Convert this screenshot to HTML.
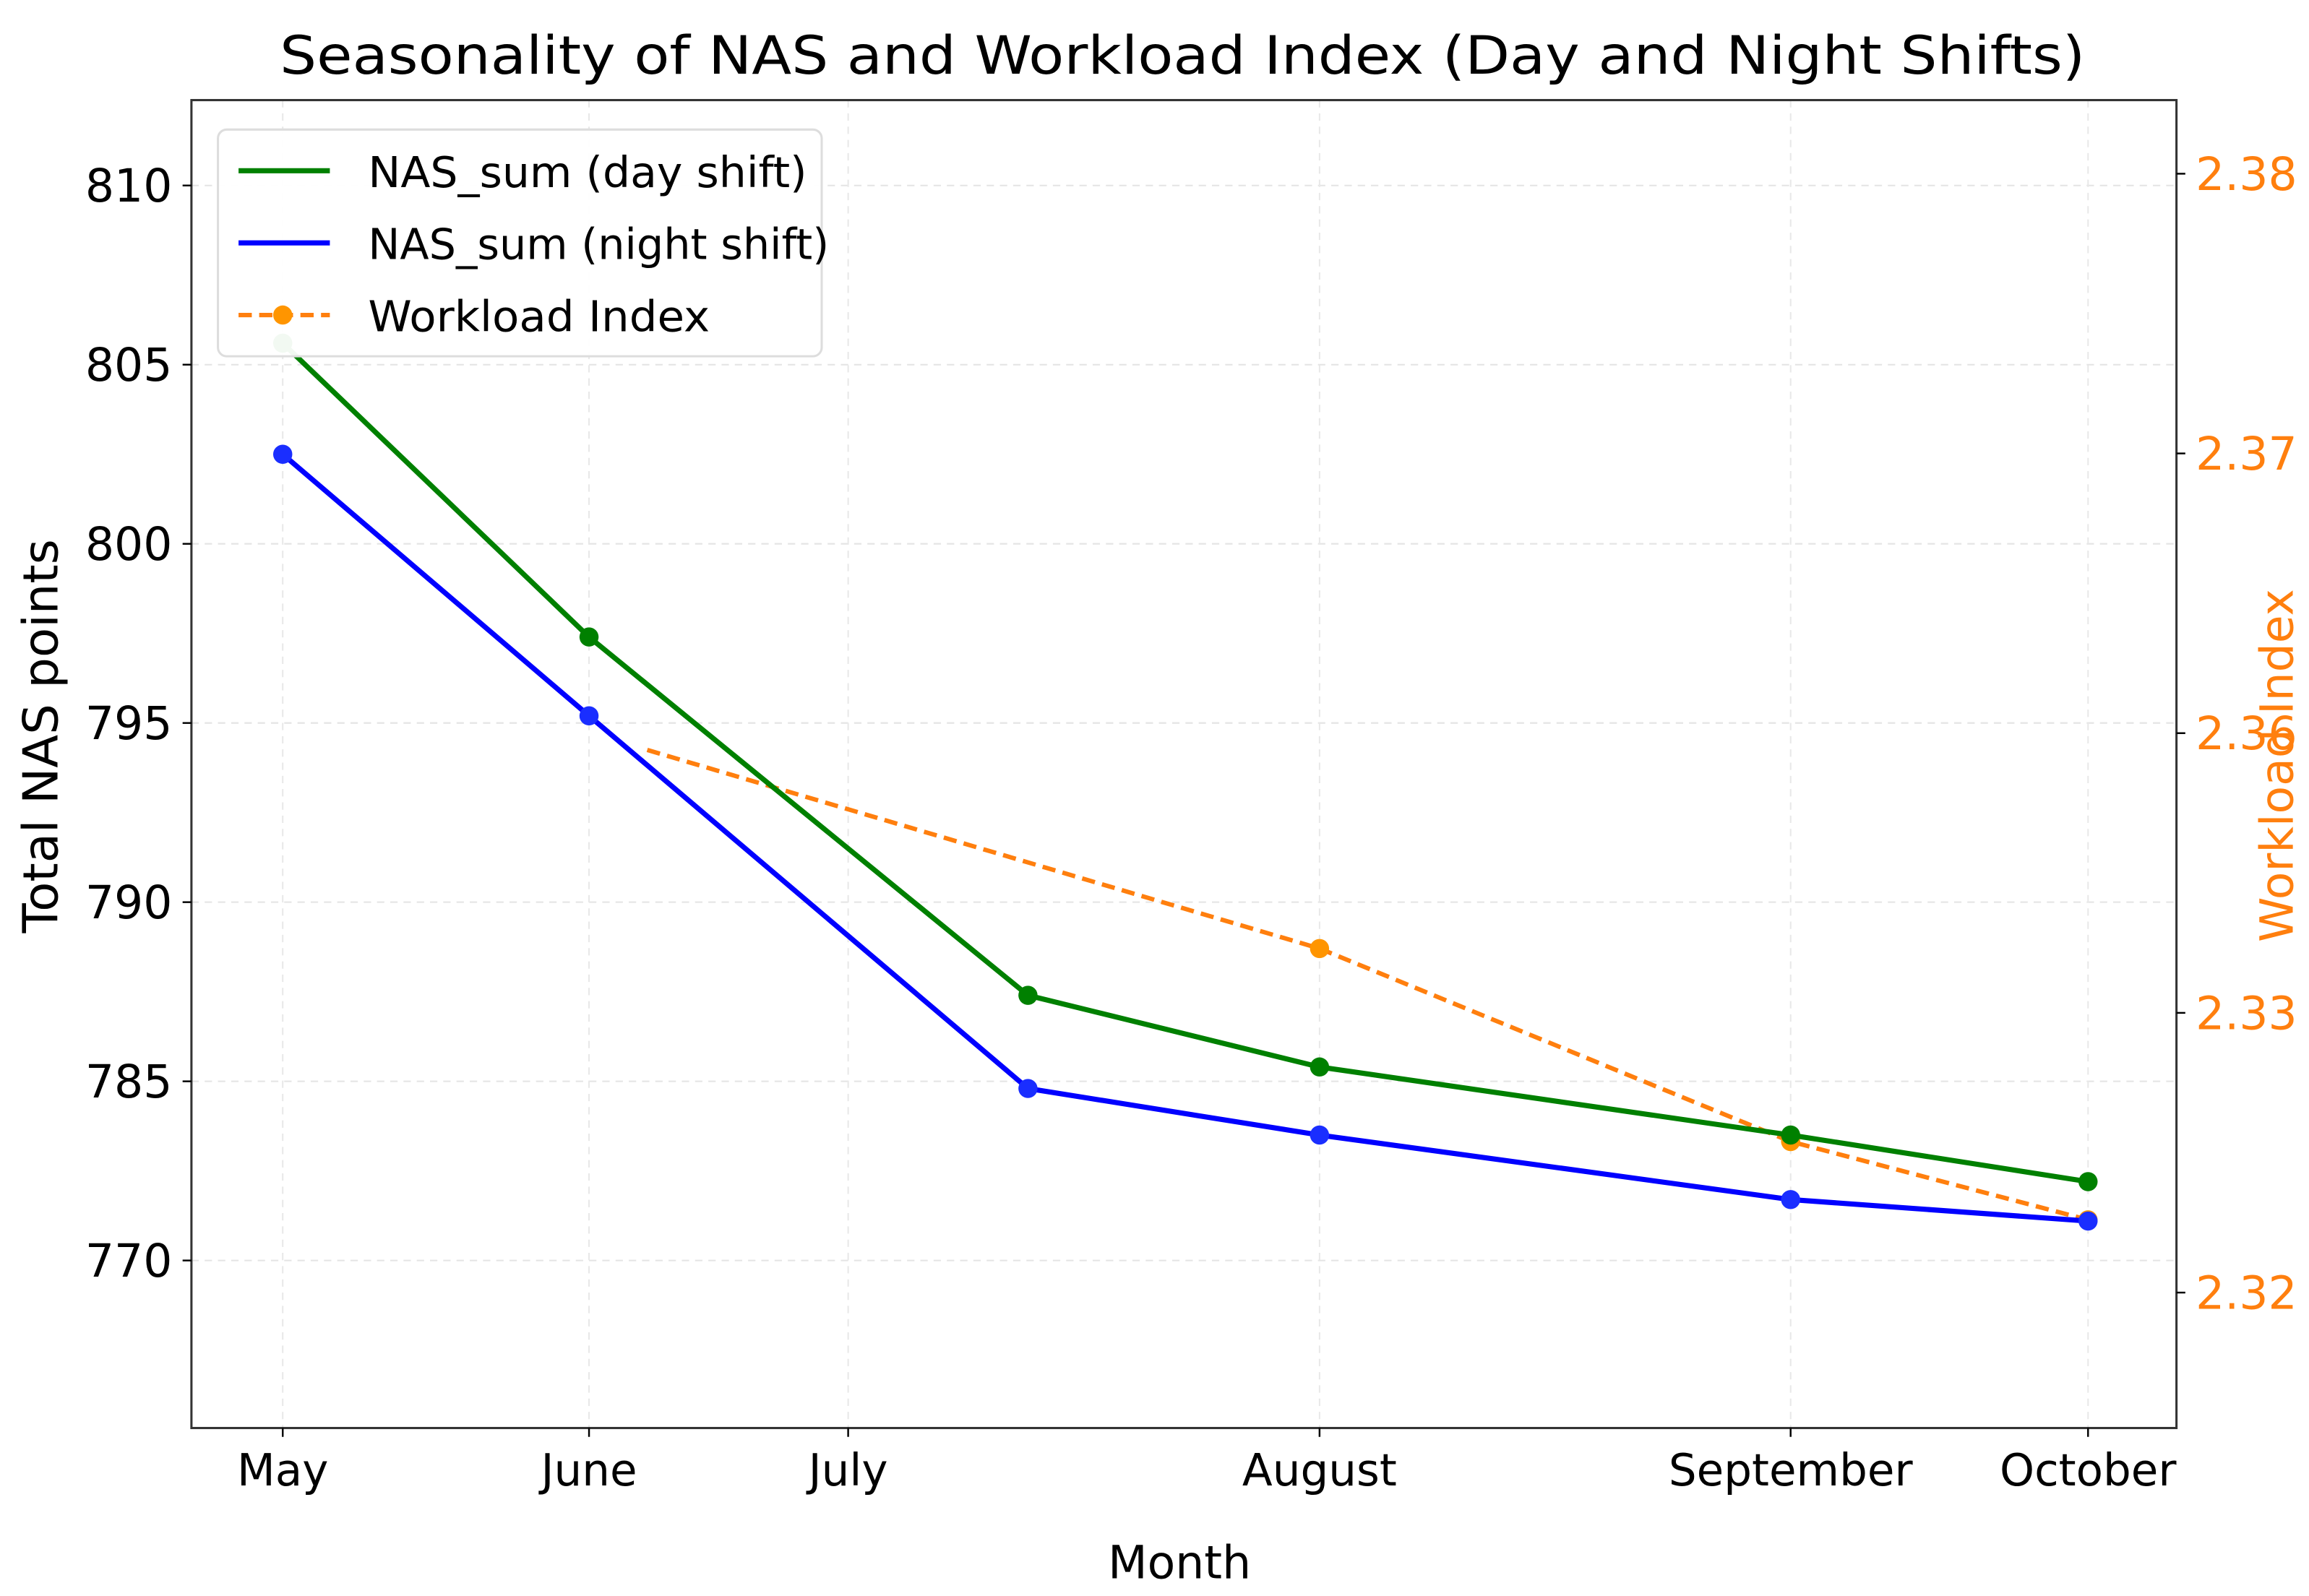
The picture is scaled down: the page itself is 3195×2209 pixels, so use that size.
<!DOCTYPE html>
<html><head><meta charset="utf-8"><style>
html,body{margin:0;padding:0;background:#fff;}
svg{display:block;font-family:"DejaVu Sans","Liberation Sans",sans-serif;}
</style></head><body>
<svg id="chart" width="3195" height="2209" viewBox="0 0 1568 1084.1" preserveAspectRatio="none" xmlns="http://www.w3.org/2000/svg">
<rect width="1568" height="1084.1" fill="#fff"/>
<text x="190" y="50" font-size="36" textLength="1226" lengthAdjust="spacingAndGlyphs" fill="#000">Seasonality of NAS and Workload Index (Day and Night Shifts)</text>
<g id="grid"></g>
<g id="series"></g>
<rect x="130" y="68" width="1348" height="902" fill="none" stroke="#333" stroke-width="1.5"/>
<g id="axes"></g>
<text x="801" y="1072" font-size="31" text-anchor="middle">Month</text>
<text transform="translate(39,500) rotate(-90)" font-size="33" text-anchor="middle">Total NAS points</text>
<text transform="translate(1557,520) rotate(-90)" font-size="31" text-anchor="middle" fill="#ff7f0e">Workload Index</text>
<g>
<rect x="148" y="88" width="410" height="154" rx="6" fill="#fff" fill-opacity="0.95" stroke="#ddd" stroke-width="1.5"/>
<g><line x1="162" y1="116" x2="224" y2="116" stroke="green" stroke-width="3.5"/><text x="250" y="127" font-size="29" textLength="298" lengthAdjust="spacingAndGlyphs">NAS_sum (day shift)</text></g>
<g><line x1="162" y1="165" x2="224" y2="165" stroke="blue" stroke-width="3.5"/><text x="250" y="176" font-size="29" textLength="313" lengthAdjust="spacingAndGlyphs">NAS_sum (night shift)</text></g>
<g><line x1="162" y1="214" x2="224" y2="214" stroke="#ff7f0e" stroke-width="3" stroke-dasharray="9,5"/><circle cx="192" cy="214" r="6.5" fill="#ff9500"/><text x="250" y="225" font-size="29" textLength="232" lengthAdjust="spacingAndGlyphs">Workload Index</text></g>
</g>
</svg>
<script>
const months = ["May","June","July","August","September","October"];
const monthPos = [0, 1.0, 1.846, 3.385, 4.923, 5.894];
const dataX = [0, 1.0, 2.433, 3.385, 4.923, 5.894];
const daySeries = [805.6, 797.4, 787.4, 785.4, 783.5, 782.2];
const nightSeries = [802.5, 795.2, 784.8, 783.5, 781.7, 781.1];
const workloadX = [1.19, 3.385, 4.923, 5.894];
const workloadSeries = [2.3594, 2.3523, 2.3454, 2.3426];
const leftTickValues = [810, 805, 800, 795, 790, 785, 780];
const leftTickLabels = ["810","805","800","795","790","785","770"];
const rightTickValues = [2.38, 2.37, 2.36, 2.35, 2.34];
const rightTickLabels = ["2.38","2.37","2.36","2.33","2.32"];

const NS = "http://www.w3.org/2000/svg";
const xs = v => 192 + v * 208;
const yL = v => 126 + (810 - v) * 24.34;
const yR = v => 118 + (2.38 - v) * 19000;
function mk(tag, attrs, parent) {
  const e = document.createElementNS(NS, tag);
  for (const k in attrs) e.setAttribute(k, attrs[k]);
  parent.appendChild(e);
  return e;
}
const grid = document.getElementById("grid");
const axes = document.getElementById("axes");
const series = document.getElementById("series");

leftTickValues.forEach((v, i) => {
  const y = yL(v);
  const g = mk("line", {x1:130, x2:1478, y1:y, y2:y, stroke:"#e4e4e4", "stroke-width":1, "stroke-dasharray":"5,4"}, grid);
  
  
  const t = mk("line", {x1:124, x2:130, y1:y, y2:y, stroke:"#000", "stroke-width":1.2}, axes);
  
  
  const l = mk("text", {x:117, y:y+11, "font-size":31, "text-anchor":"end"}, axes);
  l.textContent = leftTickLabels[i];
  
  
});
rightTickValues.forEach((v, i) => {
  const y = yR(v);
  const t = mk("line", {x1:1478, x2:1484, y1:y, y2:y, stroke:"#000", "stroke-width":1.2}, axes);
  
  
  const l = mk("text", {x:1491, y:y+11, "font-size":31, fill:"#ff7f0e"}, axes);
  l.textContent = rightTickLabels[i];
  
  
});
months.forEach((m, i) => {
  const x = xs(monthPos[i]);
  const g = mk("line", {x1:x, x2:x, y1:68, y2:970, stroke:"#e8e8e8", "stroke-width":1, "stroke-dasharray":"5,4"}, grid);
  
  
  const t = mk("line", {x1:x, x2:x, y1:970, y2:976, stroke:"#000", "stroke-width":1.2}, axes);
  
  
  const l = mk("text", {x:x, y:1009, "font-size":30, "text-anchor":"middle"}, axes);
  l.textContent = m;
  
  
});

function drawSeries(xv, yv, yfn, color, dash, name, mcolor, skipFirst) {
  const pts = xv.map((x, i) => xs(x) + "," + yfn(yv[i])).join(" ");
  const attrs = {points:pts, fill:"none", stroke:color, "stroke-width":dash?3:3.5, "stroke-linejoin":"round"};
  if (dash) attrs["stroke-dasharray"] = "9,5";
  const pl = mk("polyline", attrs, series);
  
  
  xv.forEach((x, i) => {
    if (skipFirst && i === 0) return;
    const c = mk("circle", {cx:xs(x), cy:yfn(yv[i]), r:6.5, fill:mcolor}, series);
    
    
  });
}
drawSeries(workloadX, workloadSeries, yR, "#ff7f0e", true, "workload", "#ff9500", true);
drawSeries(dataX, daySeries, yL, "green", false, "day-shift", "green", false);
drawSeries(dataX, nightSeries, yL, "blue", false, "night-shift", "#1a2eff", false);
</script>
</body></html>
